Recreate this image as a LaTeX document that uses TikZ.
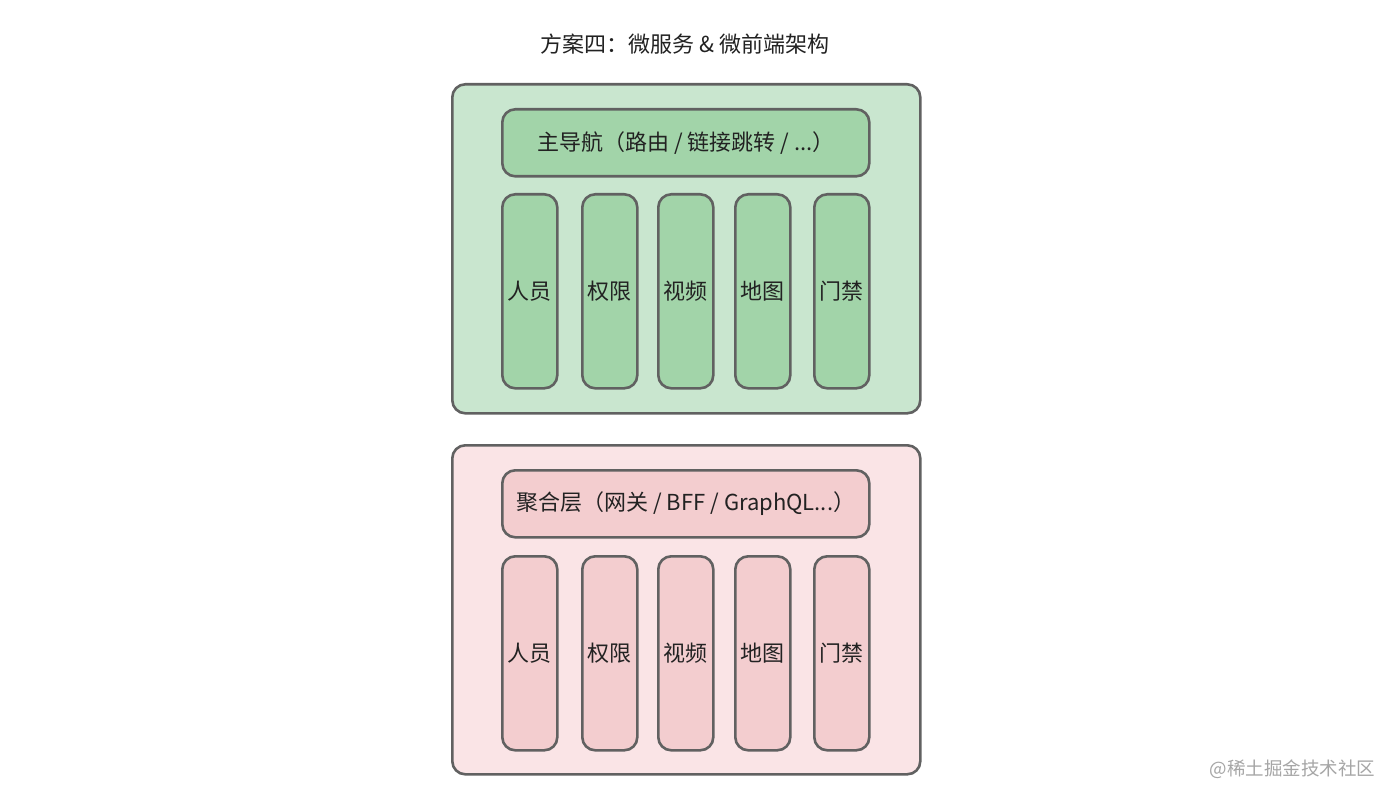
\documentclass[tikz,border=0pt]{standalone}
\usepackage{fontspec}
\setmainfont{Noto Sans CJK SC}
\begin{document}
\begin{tikzpicture}[x=1pt,y=-1pt,
  box/.style={draw=strokegray,line width=2.6pt,rounded corners=13pt,anchor=north west,inner sep=0pt,font=\fontsize{22}{26}\selectfont,text=textdark},
  outergreen/.style={box,fill=greenout},
  innergreen/.style={box,fill=greenin},
  outerpink/.style={box,fill=pinkout},
  innerpink/.style={box,fill=pinkin},
  wide/.style={minimum width=367pt,minimum height=67pt},
  col/.style={minimum width=55pt,minimum height=194pt},
]
\definecolor{strokegray}{HTML}{616161}
\definecolor{greenout}{HTML}{C9E6CF}
\definecolor{greenin}{HTML}{A2D4A9}
\definecolor{pinkout}{HTML}{FAE4E6}
\definecolor{pinkin}{HTML}{F3CDCF}
\definecolor{textdark}{HTML}{222222}
\useasboundingbox (0,0) rectangle (1400,802);
\fill[white] (0,0) rectangle (1400,802);

\node[font=\fontsize{22}{26}\selectfont,text=textdark] (title) at (685,44) {方案四：微服务 \& 微前端架构};

% green block
\node[outergreen,minimum width=468pt,minimum height=329pt] (gout) at (451,83) {};
\node[innergreen,wide] (nav) at (501,108) {主导航（路由 / 链接跳转 / ...）};
\node[innergreen,col] (g1) at (501,193) {人员};
\node[innergreen,col] (g2) at (581,193) {权限};
\node[innergreen,col] (g3) at (657,193) {视频};
\node[innergreen,col] (g4) at (734,193) {地图};
\node[innergreen,col] (g5) at (813,193) {门禁};

% pink block
\node[outerpink,minimum width=468pt,minimum height=329pt] (pout) at (451,444) {};
\node[innerpink,wide] (agg) at (501,469) {聚合层（网关 / BFF / GraphQL...）};
\node[innerpink,col] (p1) at (501,555) {人员};
\node[innerpink,col] (p2) at (581,555) {权限};
\node[innerpink,col] (p3) at (657,555) {视频};
\node[innerpink,col] (p4) at (734,555) {地图};
\node[innerpink,col] (p5) at (813,555) {门禁};

\node[font=\fontsize{18.5}{22}\selectfont,text=black!35,anchor=east] (wm) at (1379,769) {@稀土掘金技术社区};
\end{tikzpicture}
\end{document}
